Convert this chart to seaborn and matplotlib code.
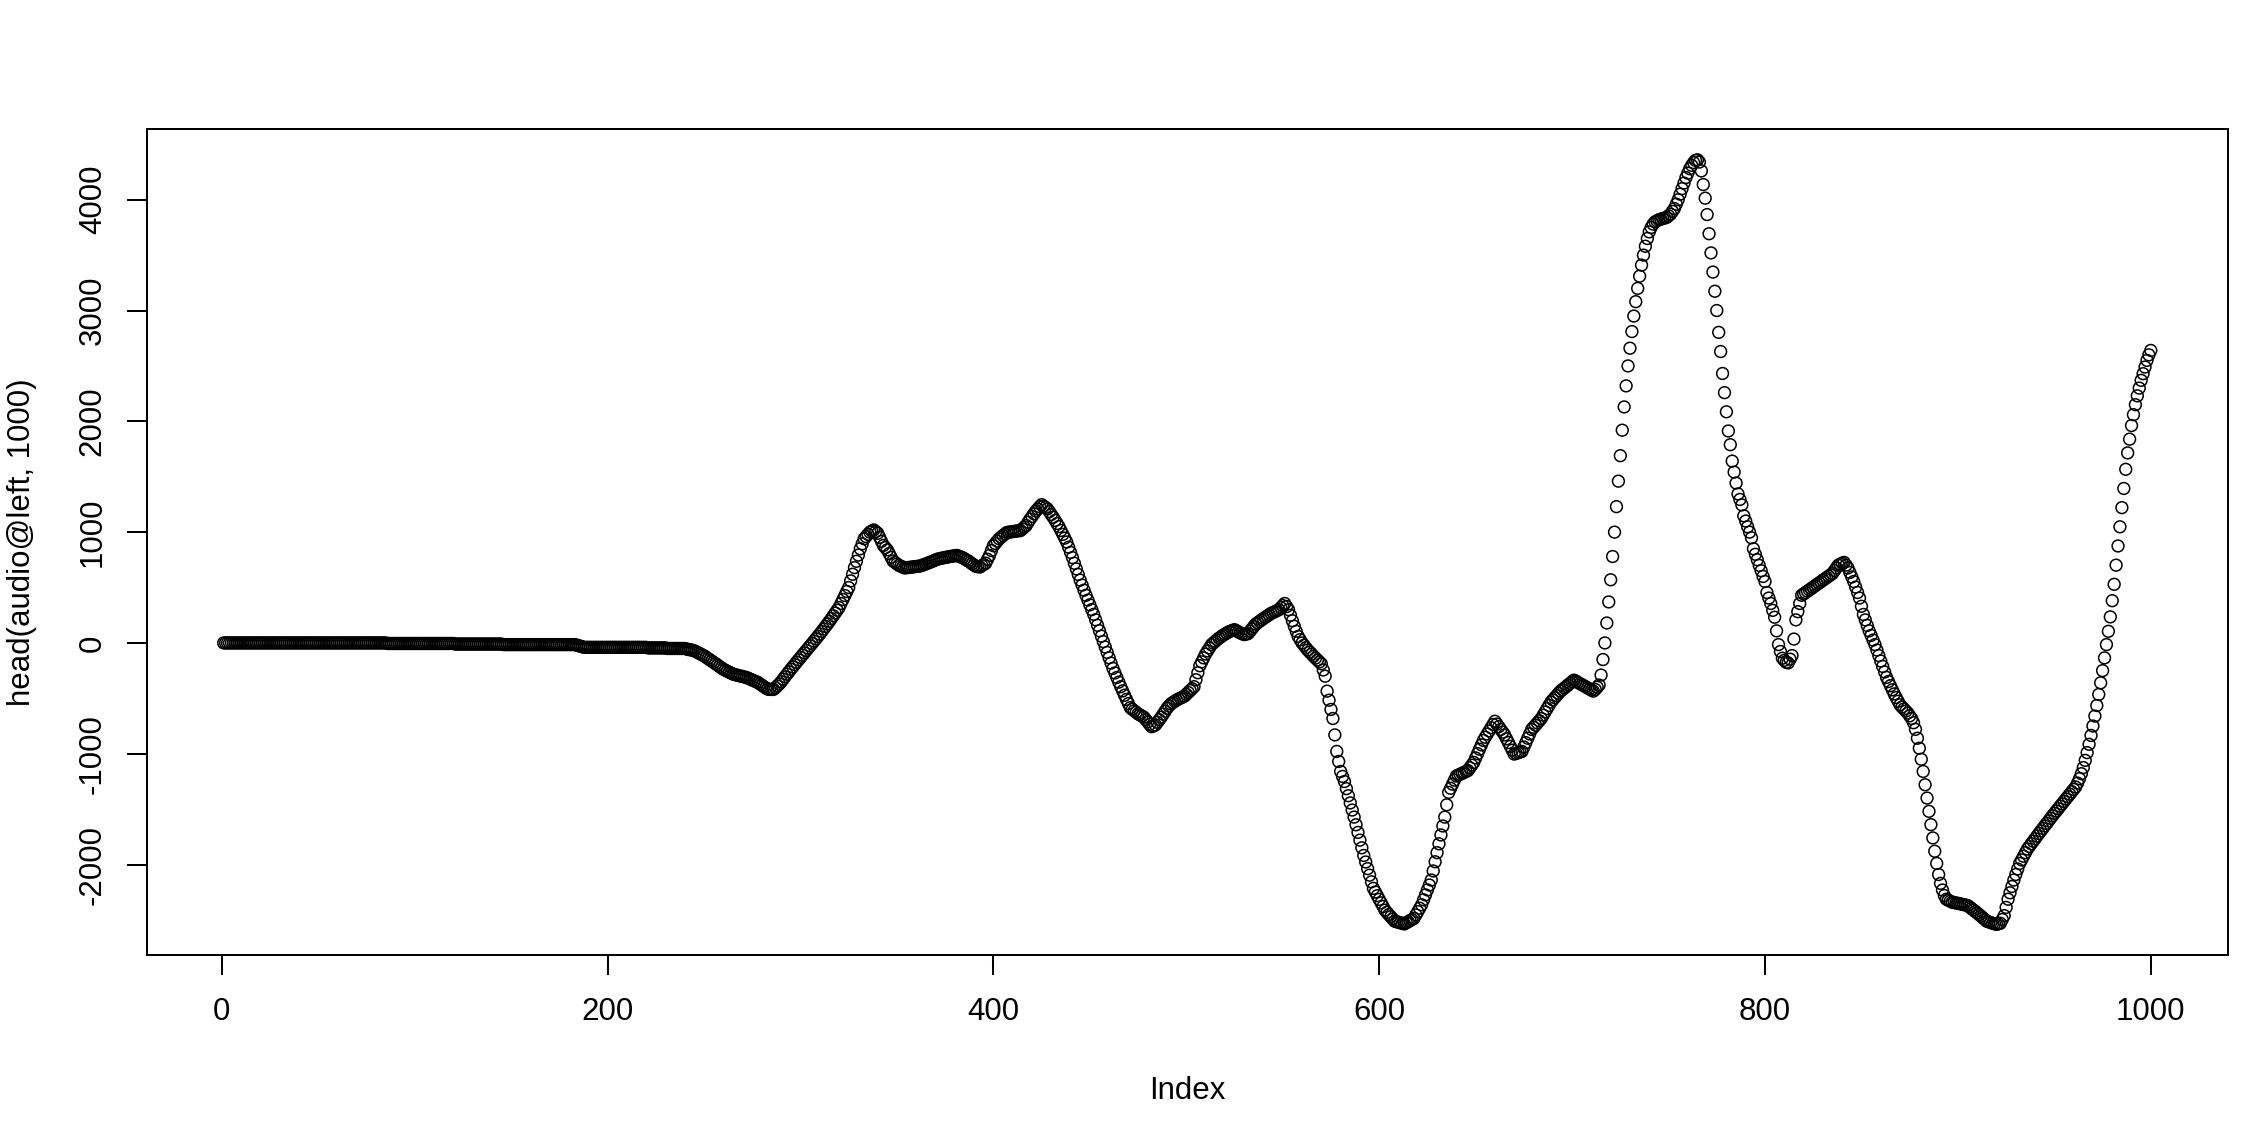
import numpy as np
import matplotlib
matplotlib.use("Agg")
import matplotlib.pyplot as plt
import seaborn as sns

# head(audio@left, 1000), values, 20 per row
amp_rows = [
    [0, 0, 0, 0, 0, 0, 0, 0, 0, 0, 0, 0, 0, 0, 0, 0, 0, 0, 0, 0],
    [0, 0, 0, 0, 0, 0, 0, 0, 0, 0, 0, 0, 0, 0, 0, 0, 0, 0, 0, 0],
    [0, 0, 0, 0, 0, 0, 0, 0, 0, 0, 0, 0, 0, 0, 0, 0, 0, 0, 0, 0],
    [0, 0, 0, 0, 0, 0, 0, 0, 0, 0, 0, 0, 0, 0, 0, 0, 0, 0, 0, 0],
    [0, 0, 0, 0, 0, -5, -5, -5, -5, -5, -5, -5, -5, -5, -5, -5, -5, -5, -5, -5],
    [-5, -5, -5, -5, -5, -5, -5, -5, -5, -5, -5, -5, -5, -5, -5, -5, -5, -5, -5, -5],
    [-10, -10, -10, -10, -10, -10, -10, -10, -10, -10, -10, -10, -10, -10, -10, -10, -10, -10, -10, -10],
    [-10, -10, -10, -10, -10, -15, -15, -15, -15, -15, -15, -15, -15, -15, -15, -15, -15, -15, -15, -15],
    [-15, -15, -15, -15, -15, -15, -15, -15, -15, -15, -15, -15, -15, -15, -15, -15, -15, -15, -15, -15],
    [-15, -15, -15, -20, -25, -30, -35, -40, -40, -40, -40, -40, -40, -40, -40, -40, -40, -40, -40, -40],
    [-40, -40, -40, -40, -40, -40, -40, -40, -40, -40, -40, -40, -40, -40, -40, -40, -40, -40, -40, -40],
    [-45, -45, -45, -45, -45, -45, -45, -45, -45, -45, -50, -50, -50, -50, -50, -50, -50, -50, -50, -50],
    [-55, -60, -62, -66, -71, -80, -89, -98, -107, -116, -128, -140, -152, -164, -176, -188, -200, -213, -225, -237],
    [-246, -255, -264, -272, -281, -286, -290, -295, -299, -303, -308, -312, -320, -327, -335, -342, -350, -357, -370, -382],
    [-394, -406, -417, -419, -420, -420, -405, -388, -370, -350, -328, -305, -282, -260, -237, -216, -195, -174, -152, -131],
    [-110, -89, -68, -47, -26, -5, 16, 38, 59, 80, 103, 126, 149, 172, 195, 220, 245, 270, 295, 320],
    [356, 392, 428, 464, 500, 560, 620, 680, 737, 793, 850, 895, 940, 960, 980, 1000, 1010, 1020, 1005, 990],
    [953, 917, 880, 860, 840, 807, 773, 740, 727, 713, 700, 692, 685, 677, 679, 681, 683, 685, 688, 690],
    [692, 694, 700, 707, 713, 720, 727, 734, 742, 749, 756, 760, 764, 768, 771, 775, 778, 781, 784, 787],
    [790, 783, 777, 770, 760, 749, 739, 727, 714, 702, 690, 688, 685, 697, 708, 720, 755, 790, 834, 877],
    [898, 919, 940, 954, 969, 983, 997, 1000, 1002, 1005, 1007, 1010, 1012, 1014, 1029, 1045, 1060, 1089, 1117, 1141],
    [1166, 1190, 1209, 1229, 1248, 1235, 1223, 1210, 1185, 1159, 1134, 1106, 1078, 1050, 1015, 980, 946, 911, 864, 817],
    [770, 719, 668, 618, 567, 522, 476, 430, 387, 344, 301, 258, 209, 159, 110, 61, 12, -37, -86, -134],
    [-182, -230, -271, -312, -354, -395, -433, -472, -510, -547, -584, -598, -612, -626, -640, -650, -660, -670, -692, -713],
    [-735, -756, -748, -740, -717, -693, -670, -643, -617, -590, -570, -550, -538, -527, -515, -506, -498, -490, -481, -464],
    [-447, -430, -413, -395, -332, -269, -206, -171, -135, -100, -72, -45, -17, -1, 14, 30, 43, 56, 69, 79],
    [90, 100, 107, 113, 120, 110, 100, 90, 83, 75, 80, 84, 105, 127, 148, 170, 183, 195, 208, 220],
    [232, 243, 255, 267, 275, 283, 292, 300, 319, 337, 356, 328, 300, 250, 200, 150, 105, 59, 30, 0],
    [-21, -43, -64, -83, -101, -120, -137, -154, -171, -188, -244, -300, -435, -517, -600, -682, -830, -979, -1070, -1160],
    [-1205, -1251, -1315, -1379, -1444, -1508, -1572, -1641, -1710, -1780, -1849, -1918, -1977, -2037, -2096, -2156, -2215, -2248, -2281, -2314],
    [-2346, -2379, -2412, -2432, -2452, -2471, -2491, -2511, -2516, -2521, -2526, -2531, -2536, -2526, -2516, -2506, -2496, -2486, -2455, -2425],
    [-2394, -2363, -2318, -2274, -2229, -2185, -2140, -2058, -1975, -1893, -1813, -1733, -1652, -1572, -1461, -1349, -1312, -1275, -1238, -1201],
    [-1193, -1185, -1177, -1168, -1160, -1152, -1127, -1103, -1078, -1038, -999, -959, -920, -880, -851, -822, -794, -765, -736, -707],
    [-732, -756, -781, -805, -830, -865, -899, -934, -968, -1003, -997, -991, -985, -979, -939, -900, -860, -821, -781, -761],
    [-742, -722, -702, -682, -652, -623, -593, -564, -534, -514, -494, -475, -455, -435, -421, -407, -393, -378, -364, -350],
    [-336, -346, -356, -366, -376, -386, -396, -406, -415, -425, -435, -420, -400, -380, -290, -150, 0, 180, 370, 570],
    [780, 1000, 1230, 1460, 1690, 1920, 2130, 2320, 2500, 2660, 2810, 2950, 3080, 3200, 3310, 3410, 3500, 3580, 3650, 3710],
    [3750, 3780, 3800, 3810, 3820, 3825, 3830, 3835, 3840, 3855, 3870, 3895, 3920, 3960, 4000, 4050, 4100, 4150, 4200, 4240],
    [4280, 4310, 4335, 4355, 4360, 4340, 4260, 4137, 4014, 3866, 3693, 3520, 3347, 3174, 3000, 2803, 2630, 2432, 2259, 2086],
    [1913, 1789, 1641, 1542, 1443, 1345, 1295, 1246, 1147, 1100, 1048, 1000, 949, 850, 800, 751, 700, 652, 600, 554],
    [455, 405, 356, 294, 232, 109, -15, -77, -138, -157, -175, -180, -147, -114, 35, 208, 282, 356, 430, 442],
    [455, 467, 479, 491, 504, 516, 529, 541, 553, 566, 578, 590, 603, 615, 628, 653, 677, 702, 711, 720],
    [727, 702, 677, 636, 595, 554, 504, 455, 405, 331, 257, 208, 158, 109, 68, 26, -15, -64, -114, -163],
    [-212, -262, -311, -348, -386, -423, -460, -493, -526, -559, -578, -596, -615, -633, -658, -682, -720, -780, -860, -950],
    [-1050, -1160, -1280, -1400, -1520, -1640, -1760, -1880, -1990, -2090, -2170, -2230, -2280, -2313, -2322, -2331, -2340, -2343, -2347, -2350],
    [-2354, -2358, -2362, -2366, -2370, -2383, -2397, -2410, -2424, -2437, -2452, -2467, -2482, -2497, -2512, -2518, -2524, -2530, -2535, -2540],
    [-2535, -2530, -2496, -2461, -2387, -2313, -2255, -2198, -2140, -2090, -2040, -1990, -1958, -1925, -1893, -1860, -1837, -1813, -1790, -1767],
    [-1743, -1720, -1697, -1674, -1651, -1629, -1606, -1583, -1560, -1538, -1517, -1495, -1473, -1452, -1430, -1408, -1387, -1365, -1343, -1322],
    [-1300, -1265, -1225, -1180, -1125, -1060, -990, -915, -835, -750, -660, -565, -465, -360, -250, -135, -15, 105, 235, 381],
    [529, 702, 875, 1048, 1221, 1394, 1567, 1715, 1839, 1962, 2060, 2150, 2230, 2300, 2370, 2430, 2490, 2550, 2600, 2640],
]
amplitude = np.array([v for row in amp_rows for v in row], dtype=float)
index = np.arange(1, len(amplitude) + 1)

x_ticks = [0, 200, 400, 600, 800, 1000]
y_ticks = [-2000, -1000, 0, 1000, 2000, 3000, 4000]

sns.set_theme(style="ticks")
plt.rcParams['font.family'] = ['Liberation Sans', 'DejaVu Sans']

fig = plt.figure(figsize=(22.52, 11.24), dpi=100)
ax = fig.add_axes([0.0651, 0.1504, 0.9242, 0.7346])

sns.scatterplot(x=index, y=amplitude, ax=ax, marker='o', s=72,
                facecolors='none', edgecolor='black', linewidth=1.1)

# R style 4% axis extension
xr = index.max() - index.min()
yr = amplitude.max() - amplitude.min()
ax.set_xlim(index.min() - 0.04 * xr, index.max() + 0.04 * xr)
ax.set_ylim(amplitude.min() - 0.04 * yr, amplitude.max() + 0.04 * yr)

ax.set_xticks(x_ticks)
ax.set_yticks(y_ticks)
ax.set_xticklabels([str(t) for t in x_ticks])
ax.set_yticklabels([str(t) for t in y_ticks])

for side in ['top', 'right', 'bottom', 'left']:
    ax.spines[side].set_visible(True)
    ax.spines[side].set_color('black')
    ax.spines[side].set_linewidth(1.45)

ax.tick_params(axis='both', length=14.4, width=1.45, color='black',
               labelsize=22.5, labelcolor='black', direction='out')
ax.tick_params(axis='x', pad=16)
ax.tick_params(axis='y', pad=13.5, labelrotation=90)
for lab in ax.get_yticklabels():
    lab.set_va('center')

ax.set_xlabel('Index', fontsize=22.5, color='black')
ax.set_ylabel('head(audio@left, 1000)', fontsize=22.5, color='black')
ax.xaxis.set_label_coords(0.5, -0.1647)
ax.xaxis.label.set_va('center')
ax.yaxis.set_label_coords(-0.0599, 0.5)
ax.yaxis.label.set_va('center')

fig.savefig('out.png', dpi=100, facecolor='white')
